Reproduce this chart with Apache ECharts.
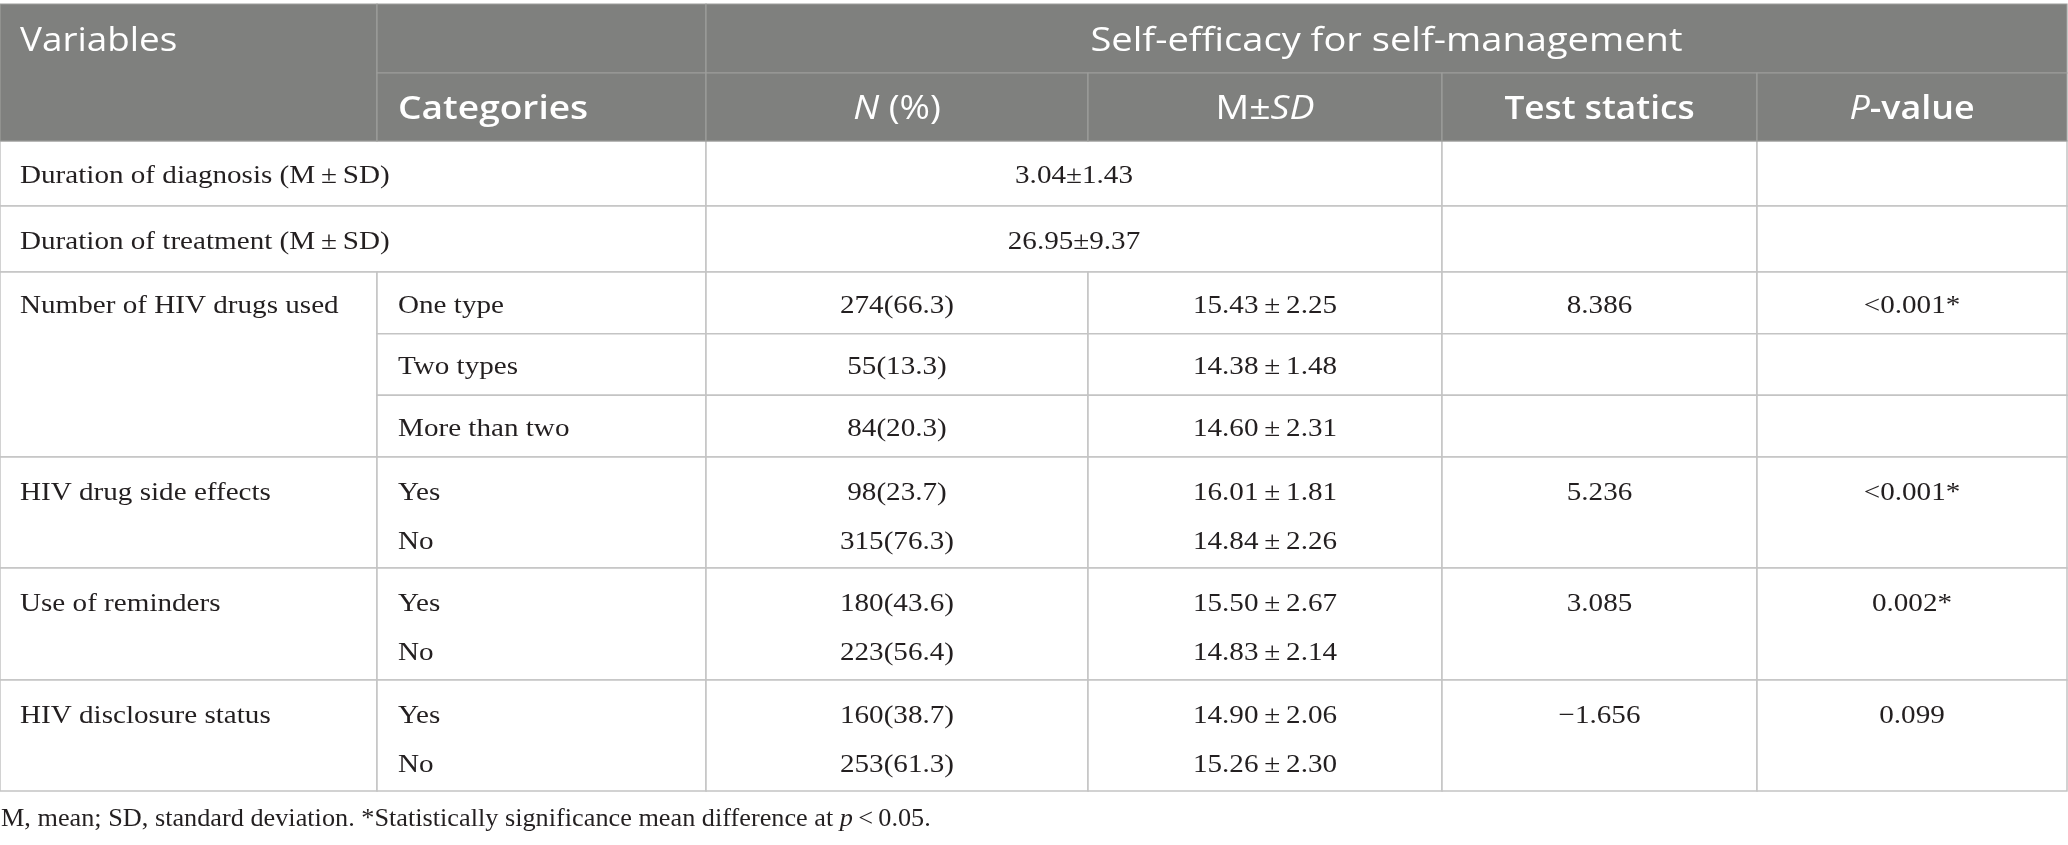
<!DOCTYPE html>
<html>
<head>
<meta charset="utf-8">
<script src="https://cdn.jsdelivr.net/npm/echarts@6/dist/echarts.min.js"></script>
<style>
html,body{margin:0;padding:0;background:#fff;}
#chart{width:2068px;height:845px;}
</style>
</head>
<body>
<div id="chart"></div>
<script>
// ---------------- DATA ----------------
const headerTop = 'Self-efficacy for self-management';
const headerVariables = 'Variables';
const headerColumns = ['Categories', 'N (%)', 'M±SD', 'Test statics', 'P-value'];

const variables = [
  'Duration of diagnosis (M\u2009±\u2009SD)',
  'Duration of treatment (M\u2009±\u2009SD)',
  'Number of HIV drugs used',
  'HIV drug side effects',
  'Use of reminders',
  'HIV disclosure status'
];
const durationValues = ['3.04±1.43', '26.95±9.37'];
const categories = [[], [], ['One type', 'Two types', 'More than two'], ['Yes', 'No'], ['Yes', 'No'], ['Yes', 'No']];
const nPercent = [[], [], ['274(66.3)', '55(13.3)', '84(20.3)'], ['98(23.7)', '315(76.3)'], ['180(43.6)', '223(56.4)'], ['160(38.7)', '253(61.3)']];
const meanSD = [[], [],
  ['15.43\u2009±\u20092.25', '14.38\u2009±\u20091.48', '14.60\u2009±\u20092.31'],
  ['16.01\u2009±\u20091.81', '14.84\u2009±\u20092.26'],
  ['15.50\u2009±\u20092.67', '14.83\u2009±\u20092.14'],
  ['14.90\u2009±\u20092.06', '15.26\u2009±\u20092.30']];
const testStatistics = ['', '', '8.386', '5.236', '3.085', '\u22121.656'];
const pValues = ['', '', '<0.001*', '<0.001*', '0.002*', '0.099'];
const footnote = 'M, mean; SD, standard deviation. *Statistically significance mean difference at {i|p}\u2009<\u20090.05.';

// ---------------- LAYOUT (styling, not data) ----------------
const L = {
  W: 2068, H: 845,
  col: [0, 377, 706, 1088, 1442, 1757, 2067],
  headTop: 4, headMid: 73, headBot: 141,
  groups: [141, 206, 272, 457, 568, 680, 791],
  pad: 21,
  line1: 33, line2: 82,
  footX: 1, footY: 816,
  textDy: 3
};
const HEAD_BG = '#7f807e', HEAD_LINE = '#9d9e9c', BODY_LINE = '#c4c4c4', TXT = '#231f20';
const SANS = '"Open Sans", "Noto Sans", sans-serif';
const SERIF = '"Liberation Serif", "DejaVu Serif", serif';
const HFS = 32;               // header font size
const BFS = 26, BSX = 1.12;   // body font size, horizontal scale
const FSX = 1.01;             // footnote horizontal scale

function sansRich(weight, style) {
  return {fontFamily: SANS, fontSize: HFS, fontWeight: weight, fontStyle: style, fill: '#fff'};
}
const headerRich = {
  n: sansRich('normal', 'normal'),
  b: sansRich(600, 'normal'),
  i: sansRich('normal', 'italic')
};
const bodyRich = {
  n: {fontFamily: SERIF, fontSize: BFS, fill: TXT, fontStyle: 'normal'},
  i: {fontFamily: SERIF, fontSize: BFS, fill: TXT, fontStyle: 'italic'}
};
const headerMarkup = {
  'Categories': '{b|Categories}',
  'N (%)': '{i|N}{n| (%)}',
  'M±SD': '{n|M±}{i|SD}',
  'Test statics': '{b|Test statics}',
  'P-value': '{i|P}{b|-value}'
};
const headerScale = {
  'Variables': 1.15, 'top': 1.19,
  'Categories': 1.16, 'N (%)': 1.15, 'M±SD': 1.17, 'Test statics': 1.10, 'P-value': 1.12
};

// ---------------- BUILD CELLS ----------------
const cells = [];
function cell(x0, x1, y0, y1, kind, texts) { cells.push({x0, x1, y0, y1, kind, texts: texts || []}); }
function tx(t, x, y, align, sx) { return {t, x, y, align, sx}; }
const C = L.col;
const mid = (a, b) => (a + b) / 2;

// body
variables.forEach((v, g) => {
  const top = L.groups[g], bot = L.groups[g + 1];
  if (g < 2) {
    const yc = mid(top, bot);
    cell(C[0], C[2], top, bot, 'body', [tx(v, C[0] + L.pad - 1, yc, 'left')]);
    cell(C[2], C[4], top, bot, 'body', [tx(durationValues[g], mid(C[2], C[4]), yc, 'center')]);
    cell(C[4], C[5], top, bot, 'body');
    cell(C[5], C[6], top, bot, 'body');
  } else if (categories[g].length === 3) {
    const n = categories[g].length, h = (bot - top) / n;
    cell(C[0], C[1], top, bot, 'body', [tx(v, C[0] + L.pad - 1, top + h / 2, 'left')]);
    for (let k = 0; k < n; k++) {
      const y0 = top + k * h, y1 = y0 + h, yc = mid(y0, y1);
      cell(C[1], C[2], y0, y1, 'body', [tx(categories[g][k], C[1] + L.pad, yc, 'left')]);
      cell(C[2], C[3], y0, y1, 'body', [tx(nPercent[g][k], mid(C[2], C[3]), yc, 'center')]);
      cell(C[3], C[4], y0, y1, 'body', [tx(meanSD[g][k], mid(C[3], C[4]), yc, 'center')]);
      cell(C[4], C[5], y0, y1, 'body', k === 0 ? [tx(testStatistics[g], mid(C[4], C[5]), yc, 'center')] : []);
      cell(C[5], C[6], y0, y1, 'body', k === 0 ? [tx(pValues[g], mid(C[5], C[6]), yc, 'center')] : []);
    }
  } else {
    const ys = [top + L.line1, top + L.line2];
    cell(C[0], C[1], top, bot, 'body', [tx(v, C[0] + L.pad - 1, ys[0], 'left')]);
    cell(C[1], C[2], top, bot, 'body', categories[g].map((s, k) => tx(s, C[1] + L.pad, ys[k], 'left')));
    cell(C[2], C[3], top, bot, 'body', nPercent[g].map((s, k) => tx(s, mid(C[2], C[3]), ys[k], 'center')));
    cell(C[3], C[4], top, bot, 'body', meanSD[g].map((s, k) => tx(s, mid(C[3], C[4]), ys[k], 'center')));
    cell(C[4], C[5], top, bot, 'body', [tx(testStatistics[g], mid(C[4], C[5]), ys[0], 'center')]);
    cell(C[5], C[6], top, bot, 'body', [tx(pValues[g], mid(C[5], C[6]), ys[0], 'center')]);
  }
});

// header
const r1c = mid(L.headTop, L.headMid), r2c = mid(L.headMid, L.headBot);
cell(C[0], C[1], L.headTop, L.headBot, 'head', [tx('{n|' + headerVariables + '}', C[0] + L.pad - 1, r1c, 'left', headerScale['Variables'])]);
cell(C[1], C[2], L.headTop, L.headMid, 'head');
cell(C[2], C[6], L.headTop, L.headMid, 'head', [tx('{n|' + headerTop + '}', mid(C[2], C[6]), r1c, 'center', headerScale.top)]);
headerColumns.forEach((h, k) => {
  const x0 = C[k + 1], x1 = C[k + 2];
  const x = k === 0 ? x0 + L.pad : mid(x0, x1);
  cell(x0, x1, L.headMid, L.headBot, 'head', [tx(headerMarkup[h], x, r2c, k === 0 ? 'left' : 'center', headerScale[h])]);
});

// footnote
cell(0, 0, L.footY, L.footY, 'foot', [tx('{n|' + footnote.replace('{i|p}', '}{i|p}{n|') + '}', L.footX, L.footY, 'left', FSX)]);

// ---------------- RENDER ----------------
function renderItem(params, api) {
  const c = cells[api.value(4)];
  const p0 = api.coord([api.value(0), api.value(2)]);
  const p1 = api.coord([api.value(1), api.value(3)]);
  const children = [];
  const isHead = c.kind === 'head';
  if (c.kind !== 'foot') {
    children.push({
      type: 'rect',
      shape: {x: p0[0], y: p0[1], width: p1[0] - p0[0], height: p1[1] - p0[1]},
      style: {
        fill: isHead ? HEAD_BG : '#fff',
        stroke: isHead ? HEAD_LINE : BODY_LINE,
        lineWidth: isHead ? 1.2 : 1.5
      }
    });
  }
  c.texts.forEach(t => {
    const p = api.coord([t.x, t.y + L.textDy]);
    const isRich = isHead || c.kind === 'foot';
    children.push({
      type: 'text',
      x: p[0], y: p[1],
      scaleX: t.sx || BSX,
      style: {
        text: t.t,
        align: t.align,
        verticalAlign: 'middle',
        fontFamily: isHead ? SANS : SERIF,
        fontSize: isHead ? HFS : BFS,
        fill: isHead ? '#fff' : TXT,
        rich: isRich ? (isHead ? headerRich : bodyRich) : undefined
      }
    });
  });
  return {type: 'group', children};
}

const chart = echarts.init(document.getElementById('chart'), null, {renderer: 'canvas'});
chart.setOption({
  animation: false,
  grid: {left: 0, right: 0, top: 0, bottom: 0},
  xAxis: {type: 'value', min: 0, max: L.W, show: false},
  yAxis: {type: 'value', min: 0, max: L.H, inverse: true, show: false},
  series: [{
    type: 'custom',
    renderItem,
    clip: false,
    encode: {x: [0, 1], y: [2, 3]},
    data: cells.map((c, i) => [c.x0, c.x1, c.y0, c.y1, i])
  }]
});
</script>
</body>
</html>
